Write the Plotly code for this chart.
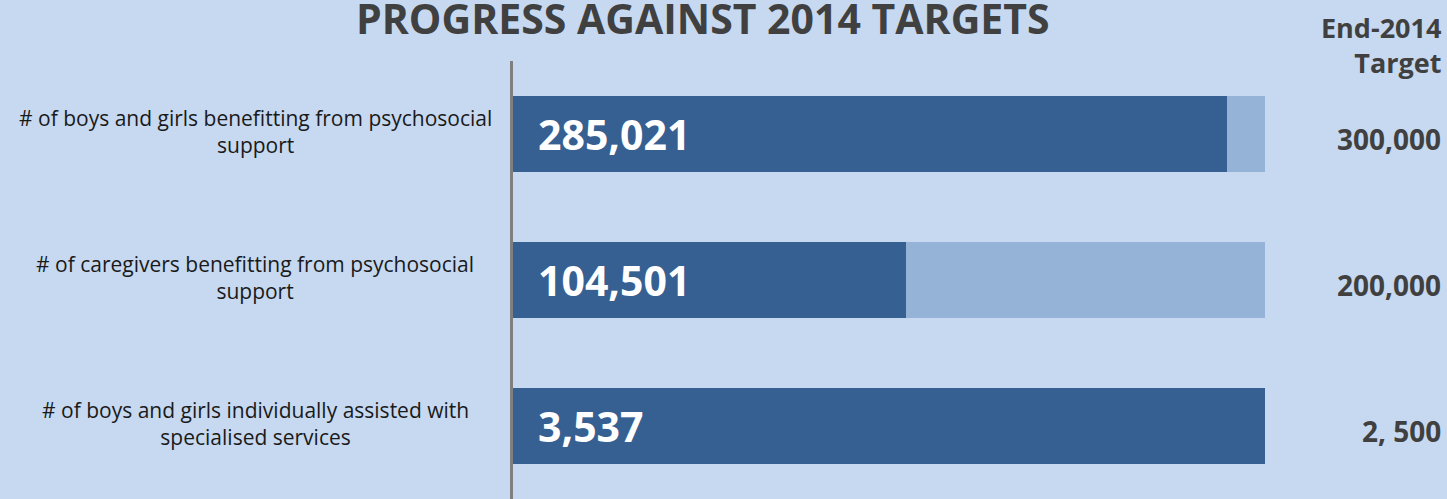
import plotly.graph_objects as go

categories = [
    "# of boys and girls benefitting from psychosocial<br>support",
    "# of caregivers benefitting from psychosocial<br>support",
    "# of boys and girls individually assisted with<br>specialised services",
]
achieved = [285021, 104501, 3537]
targets = [300000, 200000, 2500]
achieved_labels = ["285,021", "104,501", "3,537"]
target_labels = ["300,000", "200,000", "2, 500"]

BG = "#C6D9F1"
DARK = "#366092"
LIGHT = "#95B3D7"
GREY = "#404040"

pct = [min(a / t, 1.0) for a, t in zip(achieved, targets)]
rest = [1.0 - p for p in pct]
ykeys = [0, 1, 2]

fig = go.Figure()
fig.add_trace(go.Bar(y=ykeys, x=pct, orientation="h", marker=dict(color=DARK, line=dict(width=0)),
                     width=0.514, hoverinfo="skip"))
fig.add_trace(go.Bar(y=ykeys, x=rest, orientation="h", marker=dict(color=LIGHT, line=dict(width=0)),
                     width=0.514, hoverinfo="skip"))

W, H = 1447, 499
L, R, T, B = 513, 182, 61, 0
pw = W - L - R
ph = H - T - B

def px2paper(px):
    return (px - L) / pw

for i, (cat, al, tl) in enumerate(zip(categories, achieved_labels, target_labels)):
    fig.add_annotation(x=px2paper(255), xref="paper", y=i, yref="y", text=cat, showarrow=False,
                       xanchor="center", yanchor="middle", align="center", yshift=3,
                       font=dict(family="Open Sans", size=21, color="#1a1a1a"))
    fig.add_annotation(x=0, xref="x", y=i, yref="y", text=al, showarrow=False, xanchor="left",
                       yanchor="middle", xshift=23, yshift=0,
                       font=dict(family="Open Sans", size=41, color="white", weight="bold"))
    fig.add_annotation(x=px2paper(1443), xref="paper", y=i, yref="y", text=tl, showarrow=False,
                       xanchor="right", yanchor="middle", yshift=-5,
                       font=dict(family="Open Sans", size=28, color=GREY, weight="bold"))

fig.add_annotation(x=px2paper(1443), xref="paper", y=1 + 16 / ph, yref="paper",
                   text="End-2014<br>Target", showarrow=False, xanchor="right", yanchor="middle",
                   align="right", font=dict(family="Open Sans", size=27, color=GREY, weight="bold"))
fig.add_annotation(x=px2paper(703), xref="paper", y=1 + 43 / ph, yref="paper",
                   text="PROGRESS AGAINST 2014 TARGETS", showarrow=False, xanchor="center",
                   yanchor="middle", font=dict(family="Open Sans", size=41, color=GREY, weight="bold"))

fig.update_layout(
    width=W, height=H, barmode="stack", bargap=0, showlegend=False,
    paper_bgcolor=BG, plot_bgcolor=BG,
    margin=dict(l=L, r=R, t=T, b=B, pad=0),
    xaxis=dict(range=[0, 1], visible=False, fixedrange=True),
    yaxis=dict(range=[2.5, -0.5], showticklabels=False, showgrid=False, zeroline=False,
               showline=True, linecolor="#808080", linewidth=3, ticks="", fixedrange=True),
)
fig.write_html("out.html")
